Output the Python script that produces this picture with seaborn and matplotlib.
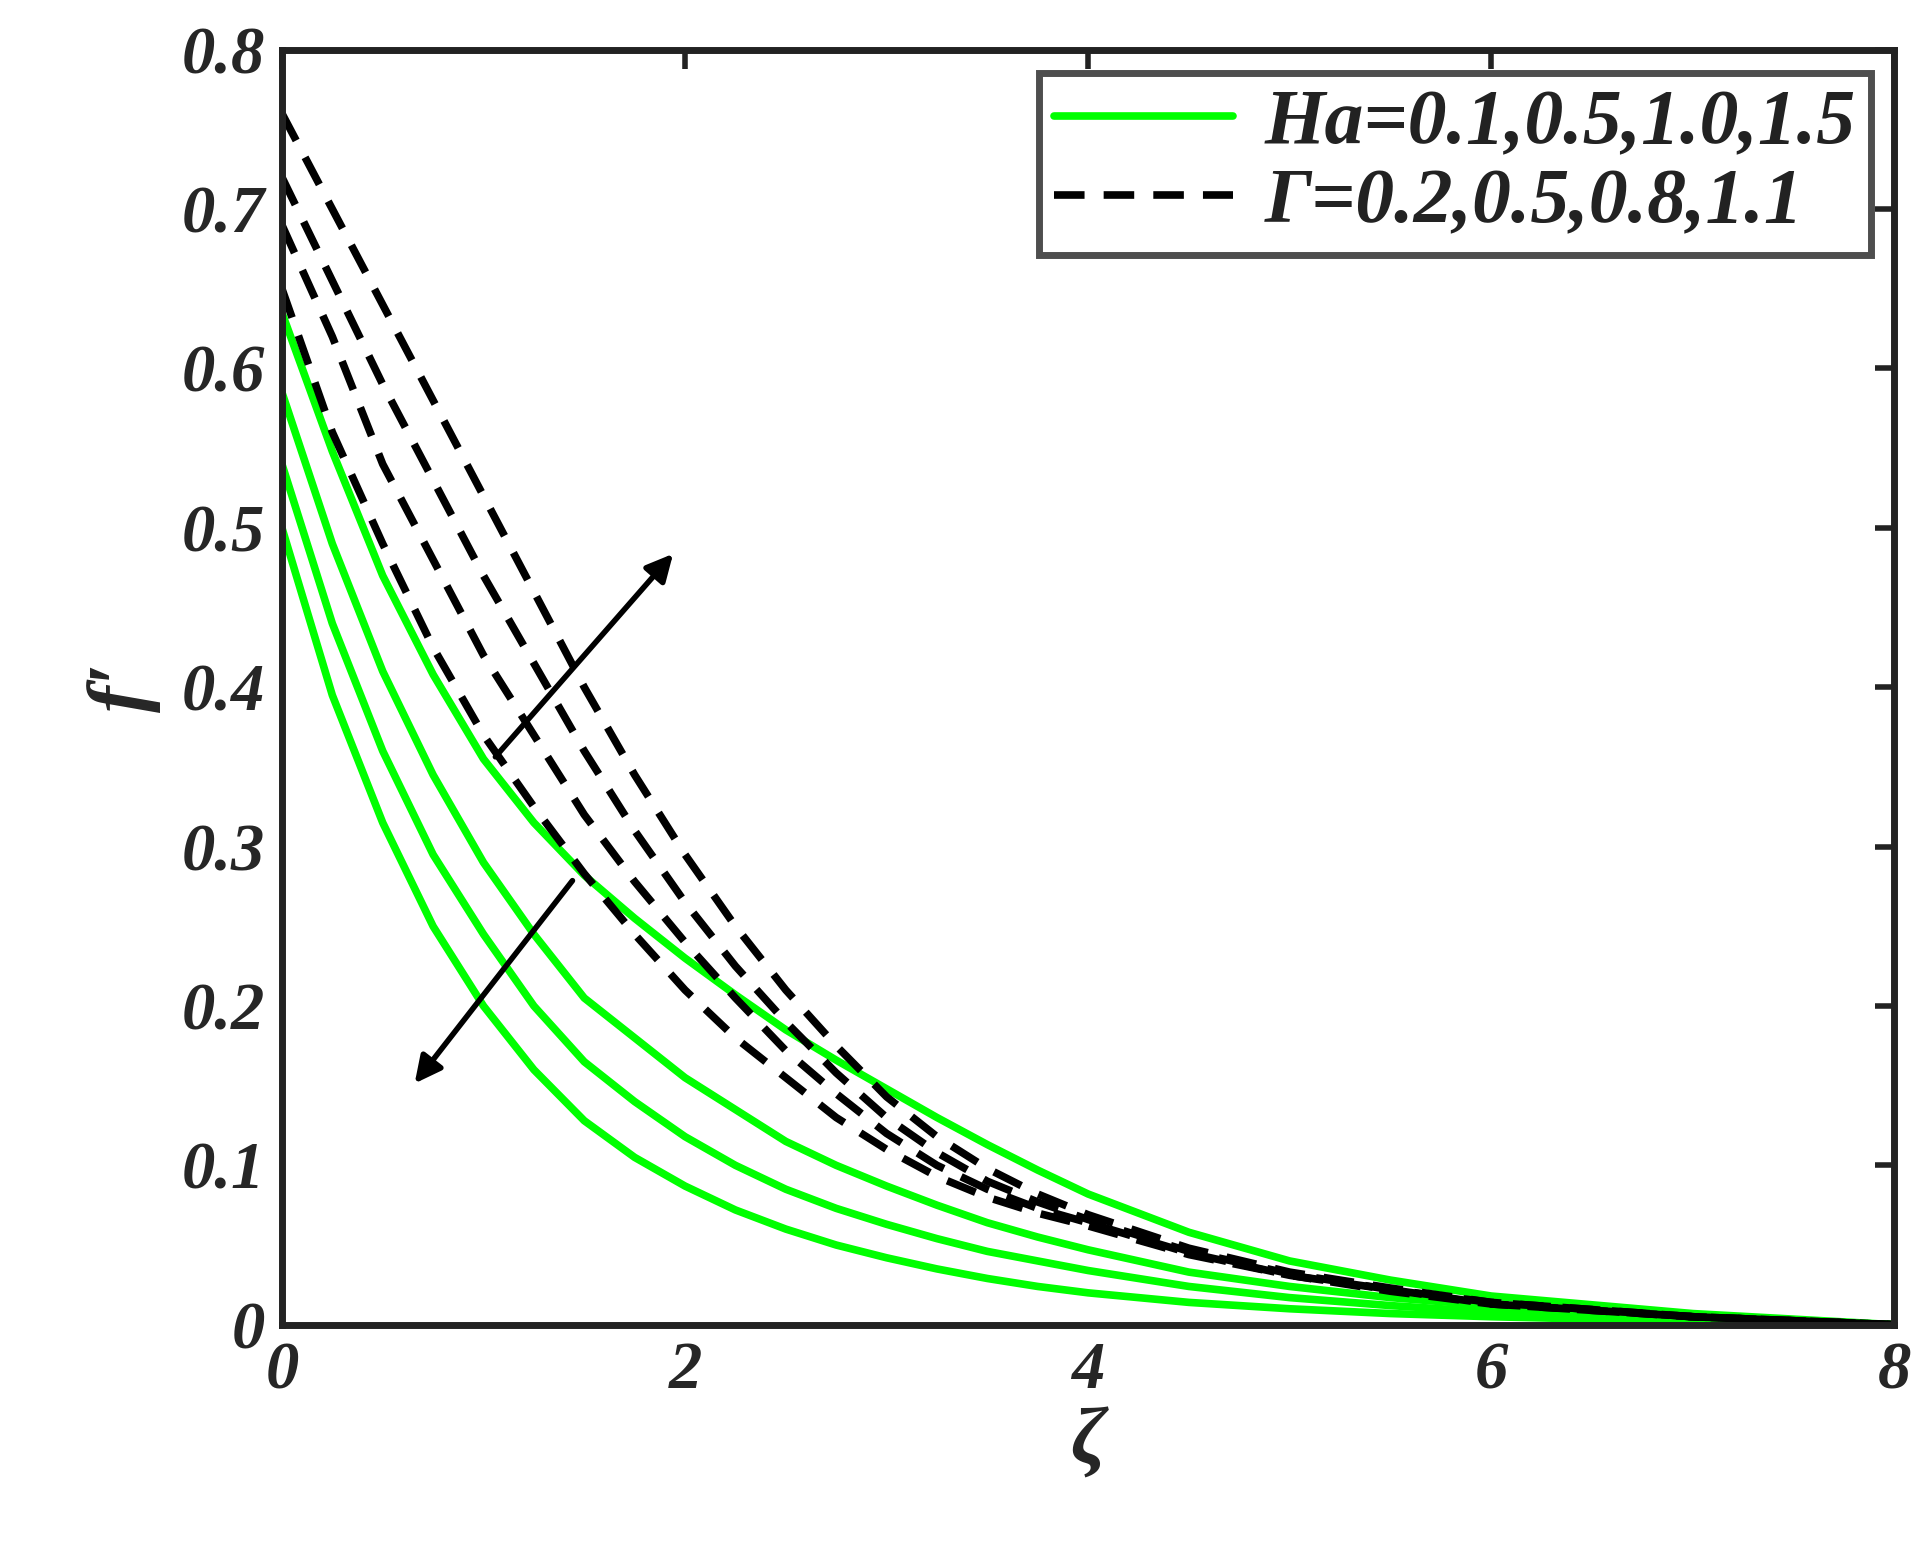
import matplotlib
matplotlib.use("Agg")
import matplotlib.pyplot as plt
import seaborn as sns
import pandas as pd

zeta = [0, 0.25, 0.5, 0.75, 1, 1.25, 1.5, 1.75, 2, 2.25, 2.5, 2.75, 3, 3.25, 3.5, 3.75, 4,
        4.5, 5, 5.5, 6, 7, 8]
ha_labels = ["0.1", "0.5", "1.0", "1.5"]
ha_curves = [
    [.635, .548, .47, .408, .355, .315, .282, .255, .23, .207, .185, .166, .148, .13, .113, .097, .082, .058, .04, .028, .018, .007, 0],
    [.585, .49, .41, .345, .29, .245, .205, .18, .155, .135, .115, .1, .087, .075, .064, .055, .047, .033, .024, .017, .012, .005, 0],
    [.54, .44, .36, .295, .245, .2, .165, .14, .118, .1, .085, .073, .063, .054, .046, .04, .034, .024, .017, .012, .008, .003, 0],
    [.50, .395, .315, .25, .2, .16, .128, .105, .087, .072, .06, .05, .042, .035, .029, .024, .02, .014, .01, .007, .005, .002, 0],
]
gamma_labels = ["0.2", "0.5", "0.8", "1.1"]
gamma_curves = [
    [.65, .56, .49, .425, .37, .325, .283, .245, .21, .18, .155, .13, .11, .093, .08, .07, .062, .044, .031, .021, .013, .005, 0],
    [.69, .62, .54, .48, .42, .37, .32, .278, .24, .205, .172, .145, .12, .1, .085, .073, .064, .045, .031, .022, .013, .005, 0],
    [.72, .655, .59, .53, .47, .415, .36, .31, .265, .225, .19, .158, .13, .108, .09, .077, .066, .046, .032, .022, .014, .005, 0],
    [.76, .70, .64, .58, .52, .46, .40, .345, .295, .25, .21, .175, .143, .118, .098, .082, .069, .048, .033, .023, .014, .005, 0],
]

sns.set_theme(style="white")
fnt = {"family": "Liberation Serif", "weight": "bold", "style": "italic"}
plt.rcParams["font.family"] = ["Liberation Serif", "DejaVu Serif"]

fig = plt.figure(figsize=(19.31, 15.53), dpi=100)
ax = fig.add_axes([0.146, 0.147, 0.835, 0.821])

for i, c in enumerate(ha_curves):
    df = pd.DataFrame({"x": zeta, "y": c})
    sns.lineplot(data=df, x="x", y="y", ax=ax, color="#00ff00", lw=5.5,
                 label="Ha=0.1,0.5,1.0,1.5" if i == 0 else None)
for i, c in enumerate(gamma_curves):
    df = pd.DataFrame({"x": zeta, "y": c})
    sns.lineplot(data=df, x="x", y="y", ax=ax, color="black", lw=5.5,
                 label="Γ=0.2,0.5,0.8,1.1" if i == 0 else None)
    ax.lines[-1].set_dashes([4, 2.5])

ax.annotate("", xy=(1.95, 0.485), xytext=(1.05, 0.355),
            arrowprops=dict(arrowstyle="-|>", color="black", lw=4, mutation_scale=40))
ax.annotate("", xy=(0.65, 0.15), xytext=(1.45, 0.28),
            arrowprops=dict(arrowstyle="-|>", color="black", lw=4, mutation_scale=40))

ax.set_xlim(0, 8)
ax.set_ylim(0, 0.8)
ax.set_xticks([0, 2, 4, 6, 8])
ax.set_yticks([0, 0.1, 0.2, 0.3, 0.4, 0.5, 0.6, 0.7, 0.8])
ax.set_xticklabels(["0", "2", "4", "6", "8"], fontdict=fnt, fontsize=48)
ax.set_yticklabels(["0", "0.1", "0.2", "0.3", "0.4", "0.5", "0.6", "0.7", "0.8"], fontdict=fnt, fontsize=48)
ax.tick_params(direction="in", length=14, width=4, top=True, right=True, pad=12, color="#222222")
for s in ax.spines.values():
    s.set_linewidth(5)
    s.set_color("#222222")
ax.set_xlabel("ζ", fontdict=fnt, fontsize=58)
ax.set_ylabel("f′", fontdict=fnt, fontsize=58, labelpad=15)

leg = ax.legend(loc="upper right", prop=dict(family="Liberation Serif", weight="bold", style="italic", size=56),
                frameon=True, fancybox=False, edgecolor="#222222", handlelength=2.3,
                borderpad=0.2, labelspacing=0.1, borderaxespad=0.3, handletextpad=0.4)
leg.get_frame().set_linewidth(5)
for t in leg.get_texts():
    t.set_color("#222222")

fig.savefig("out.png", dpi=100)
